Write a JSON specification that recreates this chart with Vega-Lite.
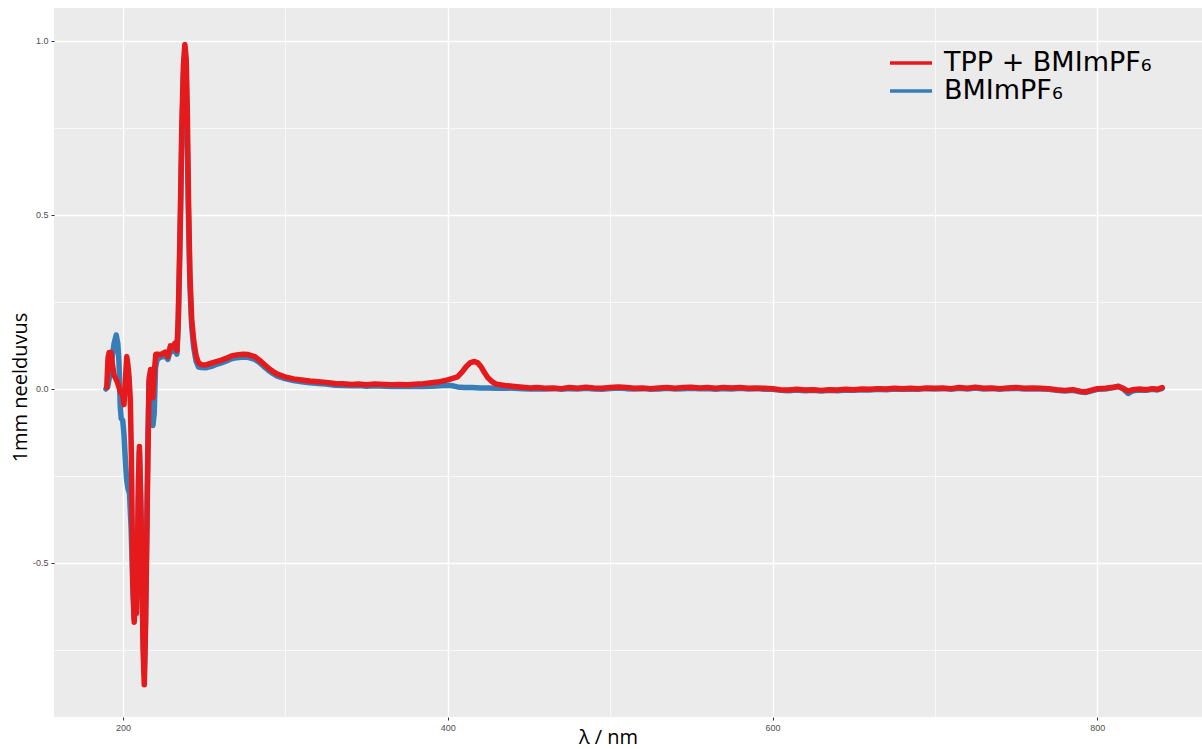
{
  "$schema": "https://vega.github.io/schema/vega-lite/v6.json",
  "width": 1148,
  "height": 709,
  "autosize": {"type": "none"},
  "padding": {"left": 54, "top": 8, "right": 0, "bottom": 32},
  "background": "white",
  "config": {
    "view": {"fill": "#EBEBEB", "stroke": null},
    "font": "Open Sans"
  },
  "datasets": {
    "bmim": [
      {"nm": 189.5, "a": 0.0}, {"nm": 190.5, "a": 0.005}, {"nm": 191.5, "a": 0.03}, {"nm": 193.0, "a": 0.08},
      {"nm": 194.5, "a": 0.13}, {"nm": 195.8, "a": 0.155}, {"nm": 196.8, "a": 0.13}, {"nm": 197.5, "a": 0.08},
      {"nm": 198.3, "a": -0.05}, {"nm": 198.9, "a": -0.085}, {"nm": 199.8, "a": -0.09}, {"nm": 200.6, "a": -0.13},
      {"nm": 201.4, "a": -0.2}, {"nm": 202.2, "a": -0.26}, {"nm": 203.0, "a": -0.285}, {"nm": 204.0, "a": -0.3},
      {"nm": 205.0, "a": -0.4}, {"nm": 206.0, "a": -0.56}, {"nm": 206.9, "a": -0.66}, {"nm": 207.6, "a": -0.57},
      {"nm": 208.3, "a": -0.62}, {"nm": 209.0, "a": -0.44}, {"nm": 209.6, "a": -0.26}, {"nm": 210.1, "a": -0.18},
      {"nm": 210.8, "a": -0.3}, {"nm": 211.6, "a": -0.47}, {"nm": 212.4, "a": -0.72}, {"nm": 213.1, "a": -0.82},
      {"nm": 213.8, "a": -0.68}, {"nm": 214.5, "a": -0.45}, {"nm": 215.3, "a": -0.15}, {"nm": 216.0, "a": 0.02},
      {"nm": 216.8, "a": 0.03}, {"nm": 217.6, "a": -0.06}, {"nm": 218.4, "a": -0.105}, {"nm": 219.2, "a": -0.07},
      {"nm": 220.0, "a": 0.06}, {"nm": 221.0, "a": 0.085}, {"nm": 222.5, "a": 0.09}, {"nm": 224.0, "a": 0.092},
      {"nm": 226.0, "a": 0.095}, {"nm": 227.6, "a": 0.085}, {"nm": 229.2, "a": 0.112}, {"nm": 230.5, "a": 0.108},
      {"nm": 232.0, "a": 0.12}, {"nm": 233.2, "a": 0.1}, {"nm": 234.0, "a": 0.18}, {"nm": 234.7, "a": 0.33},
      {"nm": 235.4, "a": 0.5}, {"nm": 236.2, "a": 0.72}, {"nm": 237.2, "a": 0.9}, {"nm": 238.1, "a": 0.96},
      {"nm": 238.9, "a": 0.9}, {"nm": 239.6, "a": 0.7}, {"nm": 240.3, "a": 0.5}, {"nm": 241.2, "a": 0.3},
      {"nm": 242.3, "a": 0.18}, {"nm": 243.5, "a": 0.12}, {"nm": 245.0, "a": 0.08}, {"nm": 246.5, "a": 0.063},
      {"nm": 248.2, "a": 0.062}, {"nm": 251, "a": 0.061}, {"nm": 254.4, "a": 0.065}, {"nm": 257, "a": 0.07},
      {"nm": 260.6, "a": 0.075}, {"nm": 263, "a": 0.079}, {"nm": 266.8, "a": 0.087}, {"nm": 270, "a": 0.09},
      {"nm": 274, "a": 0.092}, {"nm": 277, "a": 0.091}, {"nm": 281.2, "a": 0.085}, {"nm": 284, "a": 0.076},
      {"nm": 287.4, "a": 0.062}, {"nm": 290, "a": 0.052}, {"nm": 292.5, "a": 0.044}, {"nm": 295, "a": 0.037},
      {"nm": 299.7, "a": 0.03}, {"nm": 305, "a": 0.024}, {"nm": 310, "a": 0.021}, {"nm": 315, "a": 0.018},
      {"nm": 320.4, "a": 0.016}, {"nm": 325, "a": 0.014}, {"nm": 330.6, "a": 0.011}, {"nm": 335, "a": 0.01},
      {"nm": 341, "a": 0.009}, {"nm": 345, "a": 0.01}, {"nm": 350, "a": 0.008}, {"nm": 355, "a": 0.009},
      {"nm": 361.5, "a": 0.008}, {"nm": 365, "a": 0.007}, {"nm": 370, "a": 0.008}, {"nm": 375, "a": 0.007},
      {"nm": 380, "a": 0.008}, {"nm": 385, "a": 0.007}, {"nm": 390, "a": 0.008}, {"nm": 395, "a": 0.009},
      {"nm": 398, "a": 0.011}, {"nm": 402, "a": 0.01}, {"nm": 406, "a": 0.006}, {"nm": 410, "a": 0.004},
      {"nm": 415, "a": 0.004}, {"nm": 420, "a": 0.003}, {"nm": 425, "a": 0.003}, {"nm": 430, "a": 0.002},
      {"nm": 435, "a": 0.003}, {"nm": 441, "a": 0.002}, {"nm": 446, "a": 0.001}, {"nm": 451, "a": 0.0},
      {"nm": 455, "a": 0.001}, {"nm": 460, "a": 0.0}, {"nm": 465, "a": 0.001}, {"nm": 470, "a": -0.001},
      {"nm": 475, "a": 0.001}, {"nm": 480, "a": 0.0}, {"nm": 485, "a": 0.002}, {"nm": 490, "a": 0.0},
      {"nm": 495, "a": -0.001}, {"nm": 500, "a": 0.001}, {"nm": 505, "a": 0.003}, {"nm": 510, "a": 0.001},
      {"nm": 515, "a": 0.0}, {"nm": 520, "a": 0.001}, {"nm": 525, "a": -0.001}, {"nm": 530, "a": 0.0},
      {"nm": 535, "a": 0.002}, {"nm": 540, "a": 0.0}, {"nm": 545, "a": 0.001}, {"nm": 550, "a": 0.002},
      {"nm": 555, "a": 0.001}, {"nm": 560, "a": 0.001}, {"nm": 565, "a": -0.001}, {"nm": 570, "a": 0.001},
      {"nm": 575, "a": 0.0}, {"nm": 580, "a": 0.002}, {"nm": 585, "a": 0.0}, {"nm": 590, "a": 0.001},
      {"nm": 595, "a": -0.001}, {"nm": 600, "a": -0.001}, {"nm": 605, "a": -0.004}, {"nm": 610, "a": -0.005},
      {"nm": 615, "a": -0.003}, {"nm": 620, "a": -0.005}, {"nm": 625, "a": -0.004}, {"nm": 630, "a": -0.006},
      {"nm": 635, "a": -0.004}, {"nm": 640, "a": -0.005}, {"nm": 645, "a": -0.003}, {"nm": 650, "a": -0.004},
      {"nm": 655, "a": -0.002}, {"nm": 660, "a": -0.003}, {"nm": 665, "a": -0.001}, {"nm": 670, "a": -0.002},
      {"nm": 675, "a": 0.0}, {"nm": 680, "a": -0.001}, {"nm": 685, "a": 0.0}, {"nm": 690, "a": -0.001},
      {"nm": 695, "a": 0.001}, {"nm": 700, "a": 0.0}, {"nm": 705, "a": 0.001}, {"nm": 710, "a": -0.001},
      {"nm": 715, "a": 0.002}, {"nm": 720, "a": 0.0}, {"nm": 725, "a": 0.003}, {"nm": 730, "a": 0.0},
      {"nm": 735, "a": 0.001}, {"nm": 740, "a": -0.001}, {"nm": 745, "a": 0.001}, {"nm": 750, "a": 0.002},
      {"nm": 755, "a": 0.0}, {"nm": 760, "a": 0.001}, {"nm": 765, "a": 0.0}, {"nm": 770, "a": -0.001},
      {"nm": 775, "a": -0.004}, {"nm": 780, "a": -0.006}, {"nm": 785, "a": -0.004}, {"nm": 790, "a": -0.009},
      {"nm": 793, "a": -0.01}, {"nm": 796, "a": -0.006}, {"nm": 800, "a": -0.001}, {"nm": 805, "a": 0.0},
      {"nm": 810, "a": 0.004}, {"nm": 813, "a": 0.008}, {"nm": 816, "a": 0.0}, {"nm": 819, "a": -0.013},
      {"nm": 822, "a": -0.005}, {"nm": 826, "a": -0.003}, {"nm": 830, "a": -0.004}, {"nm": 834, "a": -0.001},
      {"nm": 837, "a": -0.003}, {"nm": 840, "a": 0.002}
    ],
    "tpp": [
      {"nm": 190.0, "a": 0.005}, {"nm": 190.8, "a": 0.09}, {"nm": 191.5, "a": 0.105}, {"nm": 192.6, "a": 0.105},
      {"nm": 193.5, "a": 0.07}, {"nm": 194.4, "a": 0.04}, {"nm": 195.5, "a": 0.03}, {"nm": 196.5, "a": 0.02},
      {"nm": 197.5, "a": 0.005}, {"nm": 198.5, "a": -0.01}, {"nm": 199.5, "a": -0.01}, {"nm": 200.6, "a": -0.045},
      {"nm": 201.5, "a": 0.03}, {"nm": 202.3, "a": 0.093}, {"nm": 203.0, "a": 0.07}, {"nm": 203.7, "a": 0.035},
      {"nm": 204.5, "a": -0.03}, {"nm": 205.2, "a": -0.2}, {"nm": 206.0, "a": -0.55}, {"nm": 206.9, "a": -0.67},
      {"nm": 207.6, "a": -0.58}, {"nm": 208.3, "a": -0.645}, {"nm": 209.0, "a": -0.45}, {"nm": 209.6, "a": -0.25},
      {"nm": 210.1, "a": -0.165}, {"nm": 210.8, "a": -0.3}, {"nm": 211.6, "a": -0.5}, {"nm": 212.4, "a": -0.75},
      {"nm": 213.1, "a": -0.85}, {"nm": 213.8, "a": -0.7}, {"nm": 214.5, "a": -0.48}, {"nm": 215.3, "a": -0.2},
      {"nm": 216.1, "a": 0.03}, {"nm": 217.0, "a": 0.056}, {"nm": 217.8, "a": 0.0}, {"nm": 218.4, "a": -0.025},
      {"nm": 219.3, "a": 0.05}, {"nm": 220.2, "a": 0.1}, {"nm": 221.5, "a": 0.1}, {"nm": 223.0, "a": 0.098},
      {"nm": 224.5, "a": 0.102}, {"nm": 226.0, "a": 0.106}, {"nm": 227.6, "a": 0.093}, {"nm": 229.2, "a": 0.124},
      {"nm": 230.5, "a": 0.12}, {"nm": 232.0, "a": 0.132}, {"nm": 233.2, "a": 0.11}, {"nm": 234.0, "a": 0.2},
      {"nm": 234.7, "a": 0.35}, {"nm": 235.4, "a": 0.52}, {"nm": 236.2, "a": 0.75}, {"nm": 237.2, "a": 0.93},
      {"nm": 238.1, "a": 0.99}, {"nm": 238.9, "a": 0.95}, {"nm": 239.6, "a": 0.8}, {"nm": 240.3, "a": 0.55},
      {"nm": 241.2, "a": 0.33}, {"nm": 242.3, "a": 0.2}, {"nm": 243.5, "a": 0.14}, {"nm": 245.0, "a": 0.095},
      {"nm": 246.5, "a": 0.075}, {"nm": 248.2, "a": 0.07}, {"nm": 251, "a": 0.069}, {"nm": 254.4, "a": 0.074},
      {"nm": 257, "a": 0.078}, {"nm": 260.6, "a": 0.083}, {"nm": 263, "a": 0.087}, {"nm": 266.8, "a": 0.095},
      {"nm": 270, "a": 0.098}, {"nm": 274, "a": 0.1}, {"nm": 277, "a": 0.099}, {"nm": 281.2, "a": 0.093},
      {"nm": 284, "a": 0.083}, {"nm": 287.4, "a": 0.069}, {"nm": 290, "a": 0.058}, {"nm": 292.5, "a": 0.05},
      {"nm": 295, "a": 0.043}, {"nm": 299.7, "a": 0.035}, {"nm": 305, "a": 0.029}, {"nm": 310, "a": 0.026},
      {"nm": 315, "a": 0.023}, {"nm": 320.4, "a": 0.021}, {"nm": 325, "a": 0.019}, {"nm": 330.6, "a": 0.016},
      {"nm": 335, "a": 0.015}, {"nm": 341, "a": 0.013}, {"nm": 345, "a": 0.014}, {"nm": 350, "a": 0.012},
      {"nm": 355, "a": 0.014}, {"nm": 361.5, "a": 0.013}, {"nm": 365, "a": 0.012}, {"nm": 370, "a": 0.013},
      {"nm": 375, "a": 0.012}, {"nm": 382, "a": 0.014}, {"nm": 385, "a": 0.015}, {"nm": 390, "a": 0.018},
      {"nm": 395, "a": 0.021}, {"nm": 400, "a": 0.026}, {"nm": 406, "a": 0.035}, {"nm": 409, "a": 0.05},
      {"nm": 411.3, "a": 0.064}, {"nm": 414, "a": 0.076}, {"nm": 416.4, "a": 0.079}, {"nm": 418.5, "a": 0.075},
      {"nm": 420.5, "a": 0.064}, {"nm": 422.5, "a": 0.048}, {"nm": 424.6, "a": 0.033}, {"nm": 427, "a": 0.022},
      {"nm": 429.8, "a": 0.014}, {"nm": 435, "a": 0.01}, {"nm": 441, "a": 0.007}, {"nm": 446, "a": 0.005},
      {"nm": 451, "a": 0.003}, {"nm": 455, "a": 0.004}, {"nm": 460, "a": 0.002}, {"nm": 465, "a": 0.003},
      {"nm": 470, "a": 0.001}, {"nm": 475, "a": 0.004}, {"nm": 480, "a": 0.002}, {"nm": 485, "a": 0.005},
      {"nm": 490, "a": 0.003}, {"nm": 495, "a": 0.002}, {"nm": 500, "a": 0.004}, {"nm": 505, "a": 0.006},
      {"nm": 510, "a": 0.004}, {"nm": 515, "a": 0.002}, {"nm": 520, "a": 0.003}, {"nm": 525, "a": 0.001},
      {"nm": 530, "a": 0.003}, {"nm": 535, "a": 0.004}, {"nm": 540, "a": 0.002}, {"nm": 545, "a": 0.004},
      {"nm": 550, "a": 0.005}, {"nm": 555, "a": 0.003}, {"nm": 560, "a": 0.004}, {"nm": 565, "a": 0.002},
      {"nm": 570, "a": 0.004}, {"nm": 575, "a": 0.003}, {"nm": 580, "a": 0.004}, {"nm": 585, "a": 0.002},
      {"nm": 590, "a": 0.003}, {"nm": 595, "a": 0.002}, {"nm": 600, "a": 0.001}, {"nm": 605, "a": -0.002},
      {"nm": 610, "a": -0.003}, {"nm": 615, "a": -0.001}, {"nm": 620, "a": -0.003}, {"nm": 625, "a": -0.002},
      {"nm": 630, "a": -0.004}, {"nm": 635, "a": -0.002}, {"nm": 640, "a": -0.003}, {"nm": 645, "a": -0.001},
      {"nm": 650, "a": -0.002}, {"nm": 655, "a": 0.0}, {"nm": 660, "a": -0.001}, {"nm": 665, "a": 0.001},
      {"nm": 670, "a": 0.0}, {"nm": 675, "a": 0.002}, {"nm": 680, "a": 0.001}, {"nm": 685, "a": 0.002},
      {"nm": 690, "a": 0.001}, {"nm": 695, "a": 0.003}, {"nm": 700, "a": 0.002}, {"nm": 705, "a": 0.003},
      {"nm": 710, "a": 0.001}, {"nm": 715, "a": 0.004}, {"nm": 720, "a": 0.002}, {"nm": 725, "a": 0.005},
      {"nm": 730, "a": 0.002}, {"nm": 735, "a": 0.003}, {"nm": 740, "a": 0.001}, {"nm": 745, "a": 0.003},
      {"nm": 750, "a": 0.004}, {"nm": 755, "a": 0.002}, {"nm": 760, "a": 0.003}, {"nm": 765, "a": 0.002},
      {"nm": 770, "a": 0.001}, {"nm": 775, "a": -0.002}, {"nm": 780, "a": -0.004}, {"nm": 785, "a": -0.002},
      {"nm": 790, "a": -0.007}, {"nm": 793, "a": -0.008}, {"nm": 796, "a": -0.004}, {"nm": 800, "a": 0.001},
      {"nm": 805, "a": 0.002}, {"nm": 810, "a": 0.005}, {"nm": 813, "a": 0.007}, {"nm": 816, "a": 0.002},
      {"nm": 819, "a": -0.006}, {"nm": 822, "a": -0.002}, {"nm": 826, "a": 0.0}, {"nm": 830, "a": -0.002},
      {"nm": 834, "a": 0.001}, {"nm": 837, "a": -0.001}, {"nm": 840, "a": 0.004}
    ]
  },
  "encoding": {
    "x": {
      "field": "nm",
      "type": "quantitative",
      "scale": {"domain": [157.5, 864.5], "nice": false, "zero": false},
      "axis": {
        "values": [200, 300, 400, 500, 600, 700, 800],
        "labelExpr": "datum.value % 200 === 0 ? datum.label : ''",
        "labelOverlap": false,
        "labelFont": "Liberation Sans",
        "labelFontSize": 9,
        "labelColor": "#4D4D4D",
        "labelPadding": 3,
        "tickColor": "#333333",
        "tickSize": 3,
        "tickOpacity": {"condition": {"test": "datum.value % 200 === 0", "value": 1}, "value": 0},
        "domain": false,
        "gridColor": "white",
        "gridWidth": {"condition": {"test": "datum.value % 200 === 0", "value": 1.4}, "value": 0.7},
        "title": "λ / nm",
        "titleFont": "Open Sans",
        "titleFontSize": 20,
        "titleFontWeight": "normal",
        "titleColor": "black",
        "titleX": 554,
        "titleY": 26,
        "titleAlign": "center",
        "titleBaseline": "alphabetic"
      }
    },
    "y": {
      "field": "a",
      "type": "quantitative",
      "scale": {"domain": [-0.9426, 1.0948], "nice": false, "zero": false},
      "axis": {
        "values": [-0.75, -0.5, -0.25, 0, 0.25, 0.5, 0.75, 1],
        "labelExpr": "abs(datum.value * 2 - round(datum.value * 2)) < 0.001 ? replace(format(datum.value, '.1f'), '\u2212', '-') : ''",
        "labelOverlap": false,
        "labelFont": "Liberation Sans",
        "labelFontSize": 9,
        "labelColor": "#4D4D4D",
        "labelPadding": 3,
        "tickColor": "#333333",
        "tickSize": 3,
        "tickOpacity": {"condition": {"test": "abs(datum.value * 2 - round(datum.value * 2)) < 0.001", "value": 1}, "value": 0},
        "domain": false,
        "gridColor": "white",
        "gridWidth": {"condition": {"test": "abs(datum.value * 2 - round(datum.value * 2)) < 0.001", "value": 1.4}, "value": 0.7},
        "title": "1mm neelduvus",
        "titleFont": "Open Sans",
        "titleFontSize": 20,
        "titleFontWeight": "normal",
        "titleColor": "black",
        "titleAngle": -90,
        "titleX": -34,
        "titleY": 379,
        "titleAlign": "center",
        "titleBaseline": "middle"
      }
    }
  },
  "layer": [
    {
      "data": {"name": "bmim"},
      "mark": {"type": "line", "strokeWidth": 5.5, "strokeCap": "round", "strokeJoin": "round"},
      "encoding": {
        "color": {
          "datum": "BMImPF₆",
          "type": "nominal",
          "scale": {"domain": ["TPP + BMImPF₆", "BMImPF₆"], "range": ["#E41A1C", "#377EB8"]},
          "legend": {
            "orient": "none",
            "legendX": 834,
            "legendY": 41,
            "title": null,
            "padding": 0,
            "symbolType": "stroke",
            "symbolSize": 1764,
            "symbolStrokeWidth": 3.5,
            "clipHeight": 28,
            "rowPadding": 0,
            "labelOffset": 10,
            "labelFont": "DejaVu Sans",
            "labelFontSize": 27,
            "labelColor": "black",
            "labelLimit": 400
          }
        }
      }
    },
    {
      "data": {"name": "tpp"},
      "mark": {"type": "line", "strokeWidth": 5.5, "strokeCap": "round", "strokeJoin": "round"},
      "encoding": {
        "color": {"datum": "TPP + BMImPF₆", "type": "nominal"}
      }
    }
  ]
}
